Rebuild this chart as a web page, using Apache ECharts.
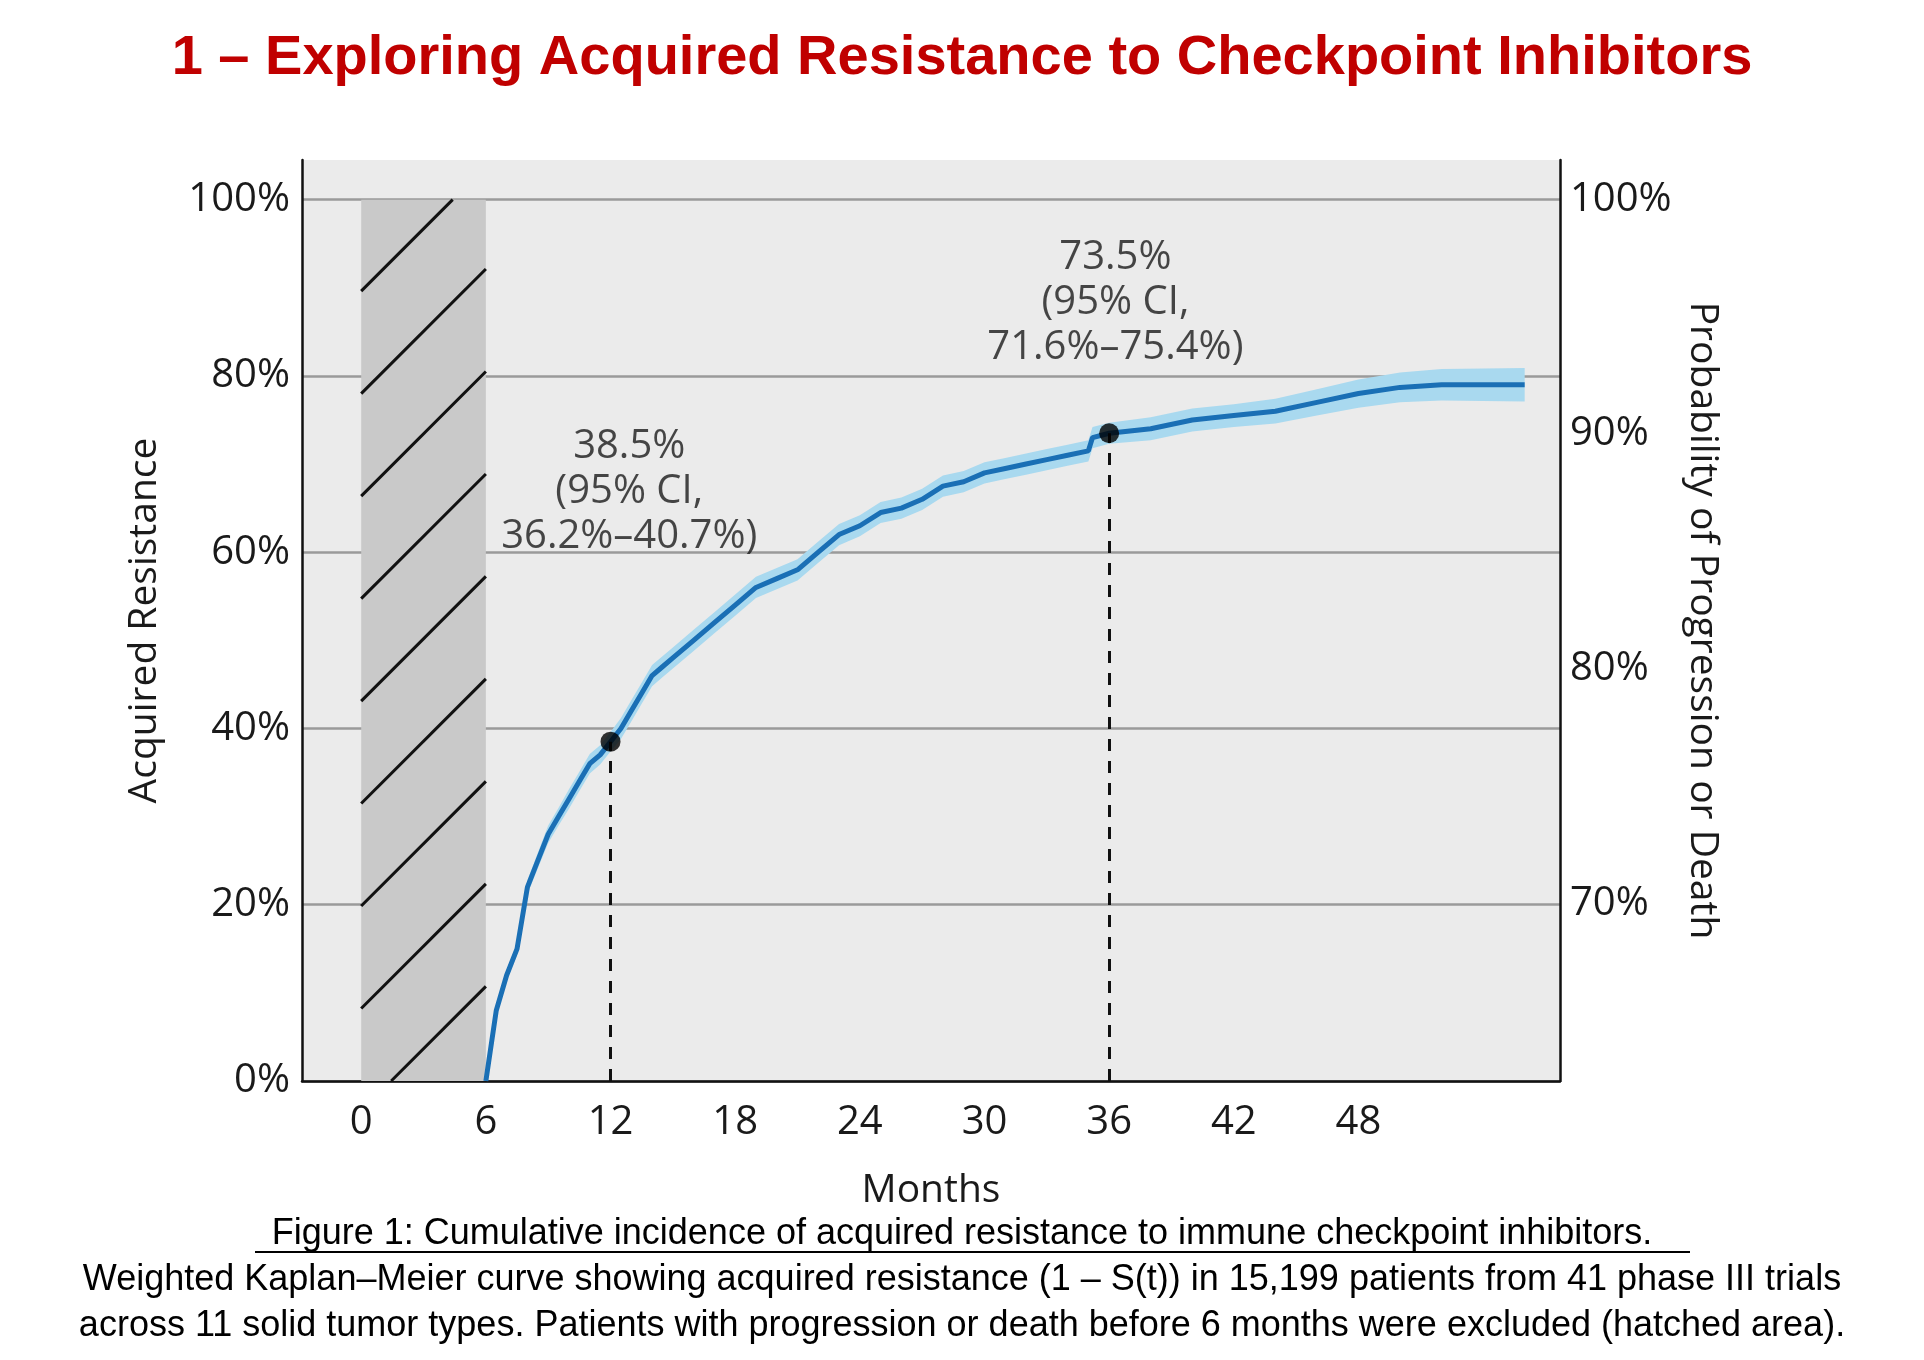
<!DOCTYPE html>
<html><head><meta charset="utf-8">
<script src="https://cdn.jsdelivr.net/npm/echarts@6/dist/echarts.min.js"></script>
<style>html,body{margin:0;padding:0;background:#fff}#c{width:1924px;height:1360px}</style>
</head><body><div id="c"></div>
<script>
const months = [6,6.5,7,7.5,8,8.5,9,9.5,10,10.5,11,11.5,12,12.5,13,13.5,14,14.5,15,16,17,18,19,20,21,22,23,24,25,26,27,28,29,30,31,32,33,34,35,35.2,36,38,40,42,44,46,48,50,52,56];
const resistance = [0,8,12,15,22,25,28,30,32,34,36,37,38.5,40,42,44,46,47,48,50,52,54,56,57,58,60,62,63,64.5,65,66,67.5,68,69,69.5,70,70.5,71,71.5,73,73.5,74,75,75.5,76,77,78,78.7,79,79];
const ciHalf = [0.3,0.5,0.6,0.7,0.8,0.9,1,1,1.1,1.1,1.1,1.1,1.1,1.2,1.2,1.2,1.2,1.2,1.2,1.2,1.2,1.2,1.2,1.2,1.2,1.2,1.2,1.2,1.2,1.2,1.2,1.2,1.2,1.2,1.2,1.2,1.2,1.2,1.2,1.2,1.2,1.3,1.3,1.3,1.4,1.5,1.6,1.7,1.8,1.9];
const xTicks = [0,6,12,18,24,30,36,42,48];
const rightTicks = [70,80,90,100];
const markers = [[12,38.5],[36,73.5]];
const notes = ['38.5%\n(95% CI,\n36.2%–40.7%)','73.5%\n(95% CI,\n71.6%–75.4%)'];
const notePos = [[12.9,74.5],[36.3,96]];

const line = months.map((m,i)=>[m,resistance[i]]);
const F = '"Open Sans", "Noto Sans", sans-serif';
const CF = '"Liberation Sans", Arial, sans-serif';
const TC = '#1a1a1a';

const chart = echarts.init(document.getElementById('c'));
chart.setOption({
  animation:false,
  title:{text:'1 – Exploring Acquired Resistance to Checkpoint Inhibitors',left:'center',top:26,
    textStyle:{color:'#c00000',fontSize:56,fontWeight:'bold',fontFamily:CF}},
  grid:{left:302,right:364,top:160,bottom:279,show:true,backgroundColor:'#ebebeb',borderWidth:0},
  xAxis:{type:'value',min:-2.85,max:57.7,name:'Months',nameLocation:'middle',nameGap:90,
    nameTextStyle:{fontSize:39,color:TC,fontFamily:F},
    axisLine:{show:true,onZero:false,lineStyle:{color:'#111',width:2.5}},axisTick:{show:false},splitLine:{show:false},
    axisLabel:{customValues:xTicks,fontSize:40,color:TC,fontFamily:F,margin:22}},
  yAxis:[{type:'value',min:0,max:104.5,interval:20,name:'Acquired Resistance',nameLocation:'middle',nameGap:138,
    nameTextStyle:{fontSize:39,color:TC,fontFamily:F},
    axisLine:{show:true,onZero:false,lineStyle:{color:'#111',width:2.5}},axisTick:{show:false},
    splitLine:{show:true,showMaxLine:false,lineStyle:{color:'#9a9a9a',width:2.5}},
    axisLabel:{formatter:v=>v>100?'':v+'%',fontSize:40,color:TC,fontFamily:F,margin:12}},
   {type:'value',min:62.42,max:101.68,position:'right',name:'Probability of Progression or Death',
    nameLocation:'middle',nameGap:115,nameRotate:-90,
    nameTextStyle:{fontSize:39,color:TC,fontFamily:F},
    axisLine:{show:true,onZero:false,lineStyle:{color:'#111',width:2.5}},axisTick:{show:false},splitLine:{show:false},
    axisLabel:{customValues:rightTicks,formatter:v=>v+'%',fontSize:40,color:TC,fontFamily:F,margin:10}}],
  series:[
    {type:'custom',data:[[0,6]],z:1,silent:true,renderItem:(p,api)=>{
      const a=api.coord([0,0]), b=api.coord([6,100]);
      const x0=a[0],x1=b[0],yb=a[1],yt=b[1];
      const ch=[{type:'rect',shape:{x:x0,y:yt,width:x1-x0,height:yb-yt},style:{fill:'#c9c9c9'}}];
      const w=x1-x0, step=(yb-yt)/8.6;
      for(let k=-12;k<14;k++){
        const c=yb - k*step + 30;
        let xa=x0, ya=c, xb=x1, yb2=c-w;
        if(ya>yb){xa=x0+(ya-yb);ya=yb;}
        if(yb2<yt){xb=x0+(c-yt);yb2=yt;}
        if(xa>=xb||ya<yt||yb2>yb) continue;
        ch.push({type:'line',shape:{x1:xa,y1:ya,x2:xb,y2:yb2},style:{stroke:'#111',lineWidth:3}});
      }
      return {type:'group',children:ch};
    }},
    {type:'custom',data:[[0,0]],z:2,silent:true,renderItem:(p,api)=>{
      const up=months.map((m,i)=>api.coord([m,resistance[i]+ciHalf[i]]));
      const lo=months.map((m,i)=>api.coord([m,Math.max(0,resistance[i]-ciHalf[i])])).reverse();
      return {type:'polygon',shape:{points:up.concat(lo)},style:{fill:'#a9d9ef'}};
    }},
    {type:'line',data:line,symbol:'none',lineStyle:{color:'#1a6fb5',width:5},z:3,
      markLine:{silent:true,symbol:'none',lineStyle:{color:'#111',type:[12,10],width:3},label:{show:false},
        data:markers.map(m=>[{coord:[m[0],0]},{coord:[m[0],m[1]]}])}},
    {type:'scatter',data:markers,symbolSize:20,itemStyle:{color:'#000'},z:5},
    {type:'scatter',data:notePos.map((p,i)=>({value:p,label:{formatter:notes[i]}})),symbolSize:0,z:6,
      label:{show:true,position:'inside',fontSize:40,lineHeight:45,color:TC,fontFamily:F,align:'center',verticalAlign:'top'}}
  ],
  graphic:[
    {type:'text',left:'center',top:1216,style:{text:'Figure 1: Cumulative incidence of acquired resistance to immune checkpoint inhibitors.',fontSize:36,fill:'#000',fontFamily:CF}},
    {type:'text',left:'center',top:1262,style:{text:'Weighted Kaplan–Meier curve showing acquired resistance (1 – S(t)) in 15,199 patients from 41 phase III trials',fontSize:36,fill:'#000',fontFamily:CF}},
    {type:'text',left:'center',top:1308,style:{text:'across 11 solid tumor types. Patients with progression or death before 6 months were excluded (hatched area).',fontSize:36,fill:'#000',fontFamily:CF}},
    {type:'line',shape:{x1:255,y1:1252,x2:1690,y2:1252},style:{stroke:'#000',lineWidth:2}}
  ]
});
</script></body></html>
